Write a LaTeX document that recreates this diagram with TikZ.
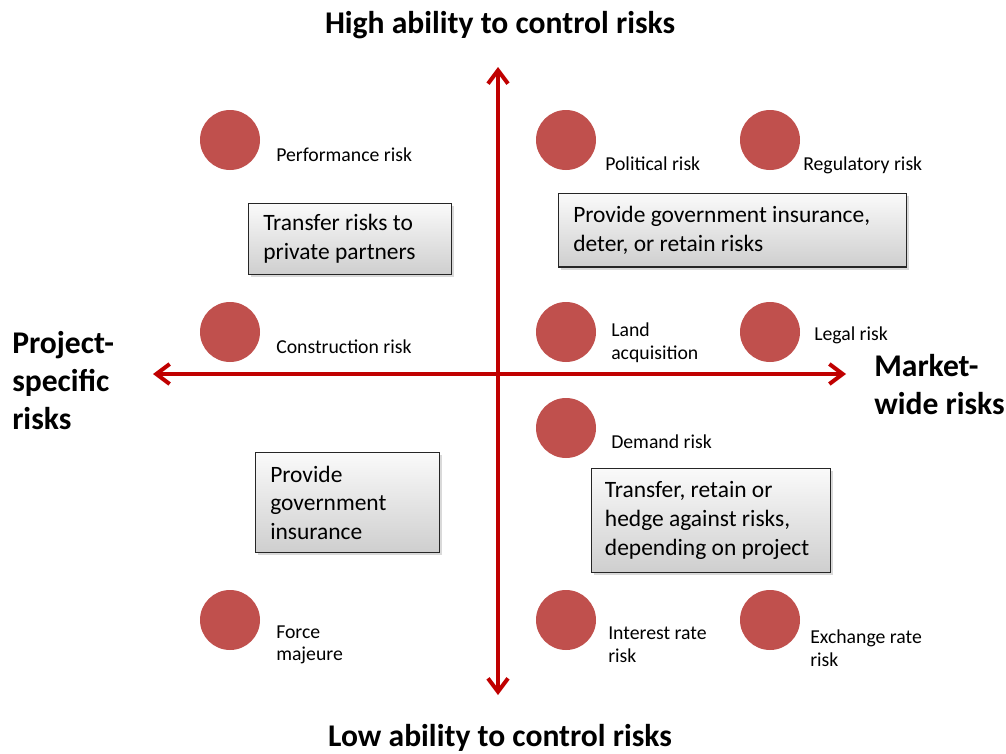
\documentclass[tikz,border=0pt]{standalone}
\usepackage{fontspec}
\setmainfont{Carlito}
\usetikzlibrary{arrows.meta,shadows}
\definecolor{riskred}{HTML}{C0504D}
\definecolor{axisred}{HTML}{C00000}
\begin{document}
\begin{tikzpicture}[x=0.75pt,y=-0.75pt,
  risk/.style={circle,fill=riskred,draw=none,minimum size=45pt,inner sep=0pt},
  lbl/.style={anchor=west,inner sep=0pt,align=left,font=\fontsize{14.8}{17}\selectfont},
  boxnode/.style={anchor=north west,draw=black!85,line width=0.9pt,top color=gray!4,bottom color=gray!38,
     drop shadow={opacity=0.3,shadow xshift=2pt,shadow yshift=-2pt},
     align=flush left,inner xsep=11pt,inner ysep=6pt,font=\fontsize{17.6}{21.5}\selectfont},
  head/.style={inner sep=0pt,font=\bfseries\fontsize{23.7}{28.5}\selectfont},
  axis/.style={draw=axisred,line width=3pt,-{Straight Barb[length=10pt,width=15pt]},line cap=round}
]
\useasboundingbox (0,0) rectangle (1006,753);

% axes
\coordinate (top) at (498,67);
\coordinate (bot) at (498,695);
\coordinate (lft) at (153,374);
\coordinate (rgt) at (846,374);
\coordinate (ctr) at (498,374);
\draw[axis] (ctr) -- (top);
\draw[axis] (ctr) -- (bot);
\draw[axis] (ctr) -- (lft);
\draw[axis] (ctr) -- (rgt);

% headings
\node[head] (hhigh) at (500,25) {High ability to control risks};
\node[head] (hlow) at (500,738) {Low ability to control risks};
\node[head,anchor=west,align=left] (hproj) at (12,381) {Project-\\specific\\risks};
\node[head,anchor=west,align=left] (hmkt) at (874,385) {Market-\\wide risks};

% risk circles
\node[risk] (c1) at (230,140) {};
\node[risk] (c2) at (566,140) {};
\node[risk] (c3) at (770,140) {};
\node[risk] (c4) at (230,332) {};
\node[risk] (c5) at (566,332) {};
\node[risk] (c6) at (770,332) {};
\node[risk] (c7) at (566,428) {};
\node[risk] (c8) at (230,620) {};
\node[risk] (c9) at (566,620) {};
\node[risk] (c10) at (770,620) {};

% labels
\node[lbl] (l1) at (276,155) {Performance risk};
\node[lbl] (l2) at (605,164) {Political risk};
\node[lbl] (l3) at (803,165) {Regulatory risk};
\node[lbl] (l4) at (276,347) {Construction risk};
\node[lbl] (l5) at (611,343) {Land\\acquisition};
\node[lbl] (l6) at (814,335) {Legal risk};
\node[lbl] (l7) at (611,442) {Demand risk};
\node[lbl] (l8) at (276,645) {Force\\majeure};
\node[lbl] (l9) at (608,645) {Interest rate\\risk};
\node[lbl] (l10) at (810,648) {Exchange rate\\risk};

% boxes
\node[boxnode,text width=130pt,minimum height=53pt] (b1) at (248,203) {Transfer risks to\\private partners};
\node[boxnode,text width=239pt,minimum height=55pt] (b2) at (558,193) {Provide government insurance,\\deter, or retain risks};
\node[boxnode,text width=116pt,minimum height=75pt] (b3) at (255,452) {Provide\\government\\insurance};
\node[boxnode,text width=159pt,inner xsep=10pt,minimum height=78pt] (b4) at (591,468) {Transfer, retain or\\hedge against risks,\\depending on project};
\end{tikzpicture}
\end{document}
